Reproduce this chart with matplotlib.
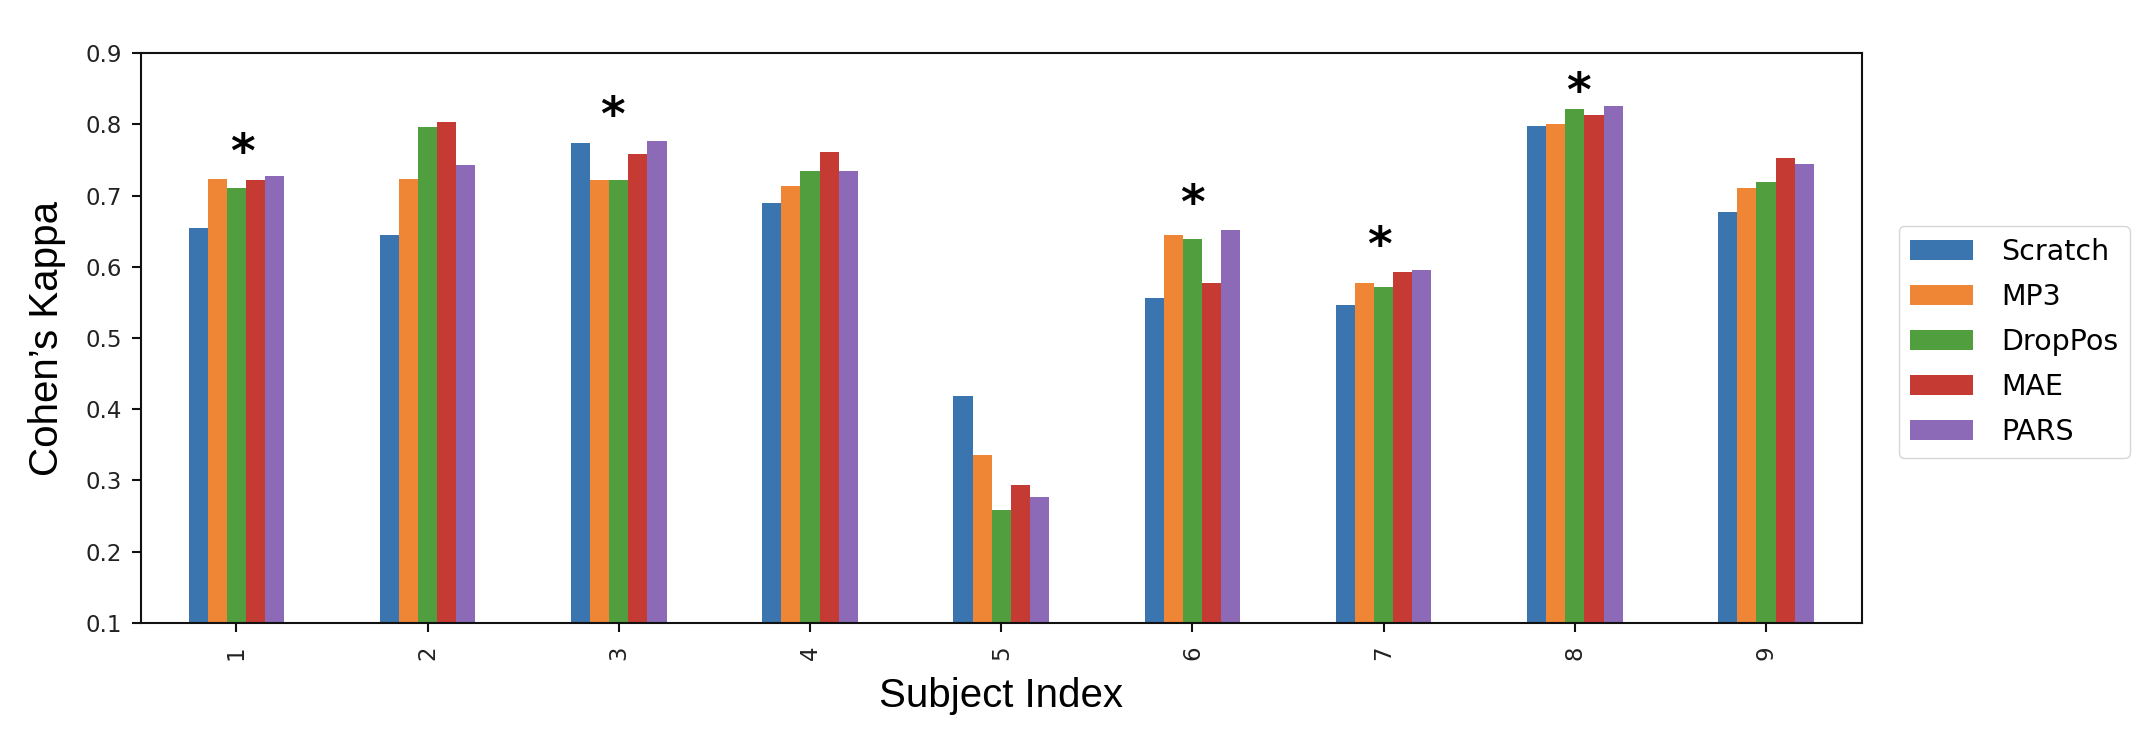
import numpy as np
import matplotlib
matplotlib.use("Agg")
import matplotlib.pyplot as plt

# Data
subjects = ["1", "2", "3", "4", "5", "6", "7", "8", "9"]
methods = ["Scratch", "MP3", "DropPos", "MAE", "PARS"]

scratch = [0.654, 0.644, 0.774, 0.689, 0.418, 0.556, 0.546, 0.798, 0.677]
mp3 = [0.724, 0.724, 0.722, 0.714, 0.335, 0.644, 0.577, 0.800, 0.711]
droppos = [0.711, 0.797, 0.722, 0.735, 0.259, 0.639, 0.572, 0.821, 0.719]
mae = [0.722, 0.804, 0.758, 0.761, 0.293, 0.577, 0.592, 0.813, 0.753]
pars = [0.727, 0.743, 0.777, 0.735, 0.277, 0.652, 0.595, 0.826, 0.745]

# significance markers: subject index and height of the star
star_subjects = [1, 3, 6, 7, 8]
star_levels = [0.771, 0.824, 0.700, 0.641, 0.857]
star_dx = [0.033, -0.035, 0.0, -0.02, 0.016]

colors = ["#3B75AF", "#EF8636", "#519E3E", "#C53A32", "#8D6AB8"]
series = [scratch, mp3, droppos, mae, pars]

fig = plt.figure(figsize=(21.46, 7.46), dpi=100)
ax = fig.add_axes([0.0656, 0.1653, 0.8019, 0.7633])

x = np.arange(len(subjects))
bar_w = 0.1
for i, (name, vals) in enumerate(zip(methods, series)):
    ax.bar(x + (i - 2) * bar_w, vals, width=bar_w, color=colors[i], label=name)

# star glyph sits high in its box, so shift it down a little
for s, lvl, dx in zip(star_subjects, star_levels, star_dx):
    ax.annotate("*", (s - 1 + dx, lvl), xytext=(0, -7), textcoords="offset points",
                ha="center", va="center", fontsize=34, fontweight="bold", color="black")

ax.set_xlim(-0.5, len(subjects) - 0.5)
ax.set_ylim(0.1, 0.9)
ax.set_xticks(x)
ax.set_xticklabels(subjects, rotation=90)
ax.set_yticks(np.arange(0.1, 0.91, 0.1))
ax.set_yticklabels([f"{v:.1f}" for v in np.arange(0.1, 0.91, 0.1)])

for sp in ax.spines.values():
    sp.set_linewidth(1.5)
    sp.set_color("#111111")
ax.tick_params(axis="both", length=6.5, width=1.5, labelsize=16.5,
               labelcolor="#222222", color="#111111")
ax.tick_params(axis="y", pad=7)
ax.tick_params(axis="x", pad=10)

label_font = dict(family="Liberation Sans", fontsize=29, color="black")
ax.set_xlabel("Subject Index", labelpad=12, **label_font)
ax.set_ylabel("Cohen\u2019s Kappa", labelpad=14, **label_font)

ax.legend(loc="center left", bbox_to_anchor=(1.0215, 0.493), borderaxespad=0,
          fontsize=20.5, handlelength=2.2, handletextpad=1.0, labelspacing=0.6,
          borderpad=0.4)

fig.savefig("out.png", dpi=100)
